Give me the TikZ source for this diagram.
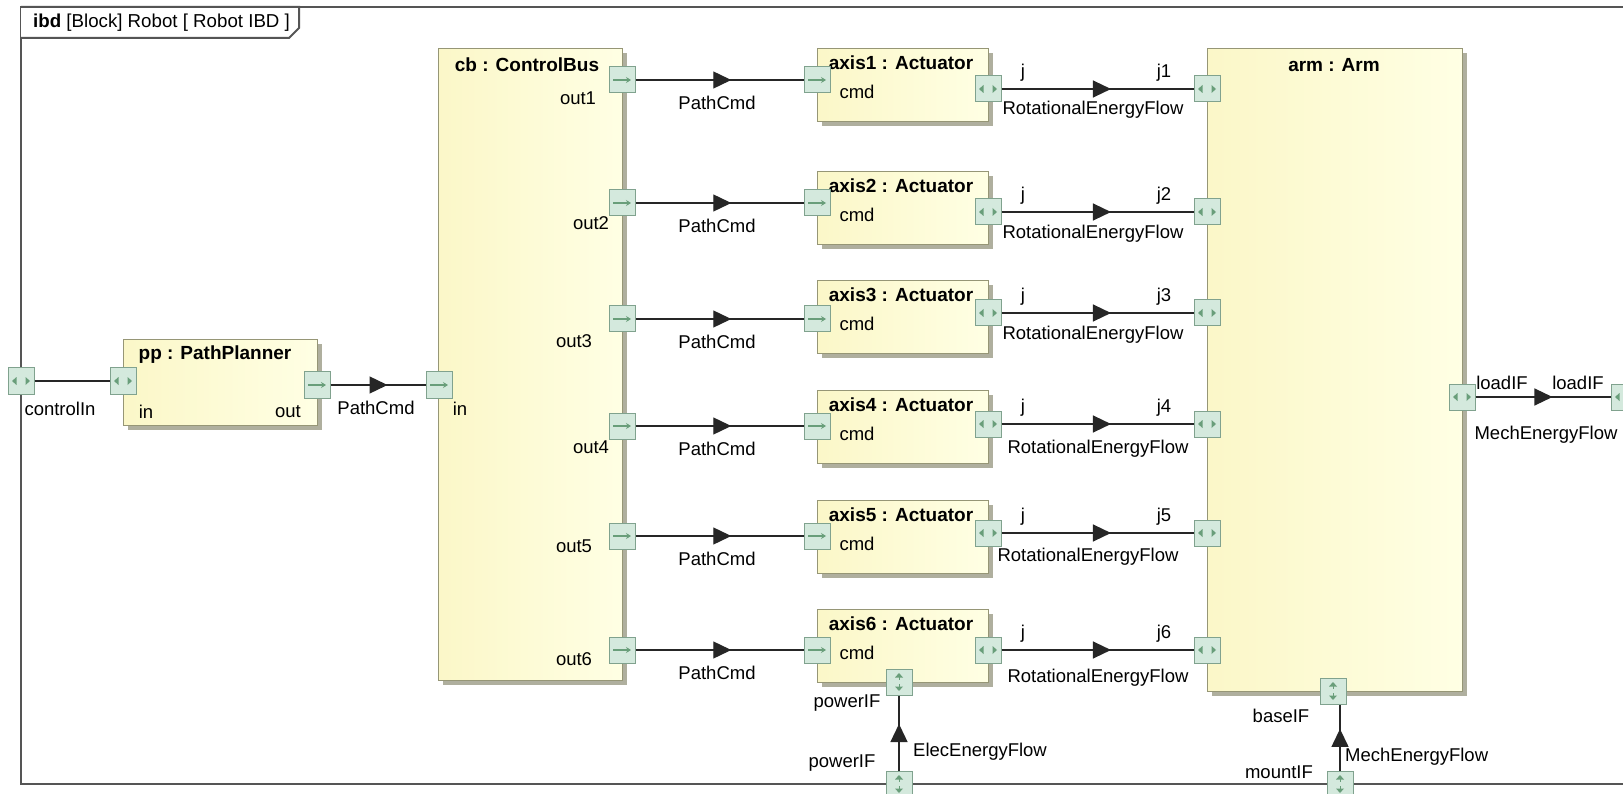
\documentclass[tikz,border=0pt]{standalone}
\usepackage{fontspec}
\setmainfont{Liberation Sans}
\usetikzlibrary{arrows.meta,decorations.markings,shadows}

\definecolor{blockL}{RGB}{251,247,200}
\definecolor{blockR}{RGB}{255,255,228}
\definecolor{blockedge}{RGB}{150,150,118}
\definecolor{shadowc}{RGB}{175,175,158}
\definecolor{portfill}{RGB}{212,233,221}
\definecolor{portedge}{RGB}{128,162,142}
\definecolor{glyphc}{RGB}{105,158,122}
\definecolor{framec}{RGB}{85,85,85}

\tikzset{
  lbl/.style={font=\fontsize{18.5}{21}\selectfont, inner sep=0pt},
  ttl/.style={font=\fontsize{19}{21}\selectfont\bfseries, inner sep=0pt},
  hdrfont/.style={font=\fontsize{18.7}{22}\selectfont, inner sep=0pt},
  blockbox/.style={draw=blockedge, line width=1.2pt, left color=blockL, right color=blockR,
    inner sep=0pt, anchor=north west, rectangle,
    drop shadow={shadow xshift=4pt, shadow yshift=-4pt, fill=shadowc, opacity=1}},
  port/.style={draw=portedge, fill=portfill, line width=1pt, minimum size=26pt,
    inner sep=0pt, rectangle},
  ioport/.style={port, path picture={
    \draw[glyphc, line width=1.1pt, -{Stealth[length=5pt,width=6pt]}]
      (path picture bounding box.center) ++(-9,0) -- ++(18,0);}},
  biport/.style={port, path picture={
    \fill[glyphc] (path picture bounding box.center) ++(-9,0) -- ++(4.5,-4) -- ++(0,8) -- cycle;
    \fill[glyphc] (path picture bounding box.center) ++(9,0) -- ++(-4.5,-4) -- ++(0,8) -- cycle;}},
  vport/.style={port, path picture={
    \fill[glyphc] (path picture bounding box.center) ++(0,-9) -- ++(-4,4.5) -- ++(8,0) -- cycle;
    \draw[glyphc, line width=0.9pt] (path picture bounding box.center) ++(0,-5) -- ++(0,3);
    \fill[glyphc] (path picture bounding box.center) ++(0,9) -- ++(-4,-4.5) -- ++(8,0) -- cycle;
    \draw[glyphc, line width=0.9pt] (path picture bounding box.center) ++(0,5) -- ++(0,-3);}},
  conn/.style={draw=black!85, line width=1.3pt},
  flow/.style={postaction={decorate}, decoration={markings,
    mark=at position #1 with {\arrow{Triangle[length=18pt,width=17pt]}}}},
  flow/.default=0.57,
  framel/.style={draw=framec, line width=2pt}
}

\begin{document}
\begin{tikzpicture}[x=1pt,y=-1pt]
\useasboundingbox (0,0) rectangle (1623,794);
\fill[white] (0,0) rectangle (1623,794);
\clip (0,0) rectangle (1623,794);

% diagram frame and its name tab
\draw[framel] (21,7) rectangle (1625,784);
\draw[framel, fill=white] (21,7) -- (299,7) -- (299,28) -- (289,38) -- (21,38);
\node[hdrfont, anchor=west] (hdr) at (33,23) {\textbf{ibd} [Block] Robot [ Robot IBD ]};

% parts
\node[blockbox, minimum width=194pt, minimum height=86pt] (pp) at (123,339) {};
\node[ttl] (pptitle) at (215,355) {pp : PathPlanner};
\node[blockbox, minimum width=184pt, minimum height=632pt] (cb) at (438,48) {};
\node[ttl] (cbtitle) at (527,65) {cb : ControlBus};
\node[blockbox, minimum width=255pt, minimum height=643pt] (arm) at (1207,48) {};
\node[ttl] (armtitle) at (1334,65) {arm : Arm};

% actuators: index / cmd row / j row / block top / out label / flow label
\foreach \i/\yc/\yj/\top/\ox/\oy/\rx/\ry in {
  1/80/89/48/578/98/1093/110,
  2/203/212/171/591/223/1093/234,
  3/319/313/280/574/341/1093/335,
  4/426/424/390/591/447/1098/449,
  5/536/533/500/574/546/1088/557,
  6/650/650/609/574/659/1098/678}{
  \node[blockbox, minimum width=171pt, minimum height=73pt] (ax\i) at (817,\top) {};
  \node[ttl] (ax\i title) at (901,\top+15) {axis\i\ : Actuator};
  \node[lbl] (ax\i cmdlbl) at (857,\top+44) {cmd};
  \node[ioport] (out\i) at (622,\yc) {};
  \node[ioport] (cmd\i) at (817,\yc) {};
  \node[biport] (j\i) at (988,\yj) {};
  \node[biport] (armj\i) at (1207,\yj) {};
  \draw[conn, flow] (out\i) -- (cmd\i);
  \draw[conn, flow] (j\i) -- (armj\i);
  \node[lbl] (outlbl\i) at (\ox,\oy) {out\i};
  \node[lbl] (pclbl\i) at (717,\yc+23) {PathCmd};
  \node[lbl] (jlbl\i) at (1023,\yj-16) {j};
  \node[lbl] (jarmlbl\i) at (1164,\yj-16) {j\i};
  \node[lbl] (relbl\i) at (\rx,\ry) {RotationalEnergyFlow};
}

% remaining ports
\node[biport] (ctrlIn) at (21,381) {};
\node[biport] (ppIn) at (123,381) {};
\node[ioport] (ppOut) at (317,385) {};
\node[ioport] (cbIn) at (439,385) {};
\node[biport] (armLoad) at (1462,397) {};
\node[biport] (loadOut) at (1624,397) {};
\node[vport] (pwrIn) at (899,682) {};
\node[vport] (pwrOut) at (899,784) {};
\node[vport] (armBase) at (1333,691) {};
\node[vport] (mount) at (1340,784) {};

% connectors
\draw[conn] (ctrlIn) -- (ppIn);
\draw[conn, flow=0.6] (ppOut) -- (cbIn);
\draw[conn, flow=0.57] (armLoad) -- (loadOut);
\draw[conn, flow=0.62] (pwrOut) -- (pwrIn);
\draw[conn, flow=0.63] (mount) -- (mount |- armBase.south);

% port and connector labels
\node[lbl] (ctrlInlbl) at (60,409) {controlIn};
\node[lbl] (ppInlbl) at (146,412) {in};
\node[lbl] (ppOutlbl) at (288,412) {out};
\node[lbl] (pplinklbl) at (376,408) {PathCmd};
\node[lbl] (cbInlbl) at (460,409) {in};
\node[lbl] (loadlbl1) at (1502,383) {loadIF};
\node[lbl] (loadlbl2) at (1578,383) {loadIF};
\node[lbl] (loadflow) at (1546,435) {MechEnergyFlow};
\node[lbl] (pwrlbl1) at (847,703) {powerIF};
\node[lbl] (pwrlbl2) at (842,763) {powerIF};
\node[lbl, anchor=west] (pwrflow) at (913,752) {ElecEnergyFlow};
\node[lbl] (baselbl) at (1281,716) {baseIF};
\node[lbl] (mountlbl) at (1279,772) {mountIF};
\node[lbl, anchor=west] (mountflow) at (1345,757) {MechEnergyFlow};
\end{tikzpicture}
\end{document}
